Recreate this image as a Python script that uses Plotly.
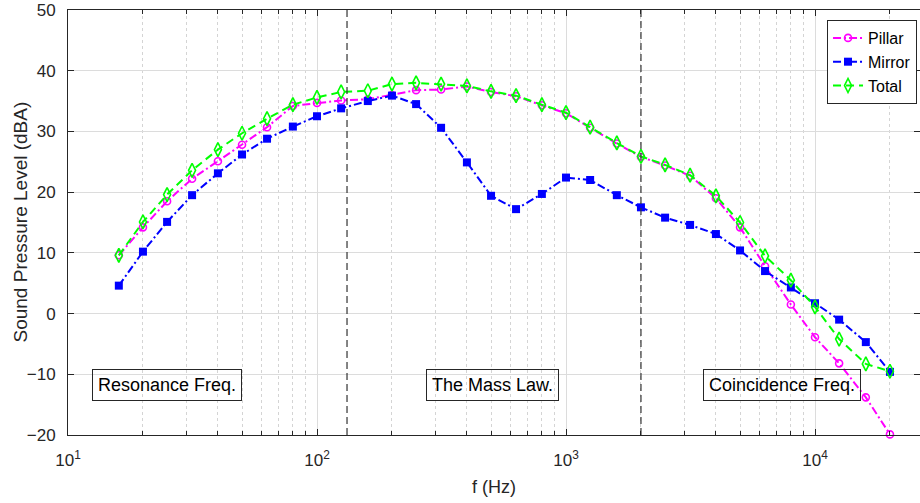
import numpy as np
import plotly.graph_objects as go

freq = [16, 20, 25, 31.5, 40, 50, 63, 80, 100, 125, 160, 200, 250, 315, 400, 500,
        630, 800, 1000, 1250, 1600, 2000, 2500, 3150, 4000, 5000, 6300, 8000,
        10000, 12500, 16000, 20000]
pillar = [9.6, 14.2, 18.5, 22.2, 25.1, 27.8, 30.7, 34.2, 34.7, 35.1, 35.3, 36.0,
          36.8, 36.9, 37.4, 36.5, 35.8, 34.3, 33.0, 30.6, 28.0, 25.8, 24.4, 22.7,
          19.0, 14.2, 7.8, 1.5, -3.9, -8.2, -13.8, -19.9]
mirror = [4.6, 10.2, 15.1, 19.5, 23.1, 26.2, 28.8, 30.8, 32.5, 33.8, 35.0, 35.9,
          34.5, 30.6, 24.9, 19.4, 17.2, 19.7, 22.4, 22.0, 19.5, 17.5, 15.8, 14.6,
          13.1, 10.4, 7.0, 4.3, 1.7, -1.0, -4.7, -9.6]
total = [9.6, 15.1, 19.6, 23.6, 27.0, 29.7, 32.1, 34.4, 35.6, 36.5, 36.7, 37.8,
         38.0, 37.8, 37.5, 36.6, 35.9, 34.4, 33.1, 30.7, 28.1, 25.9, 24.5, 22.8,
         19.4, 15.0, 9.5, 5.5, 1.1, -4.2, -8.3, -9.5]

region_bounds = [132, 2000]
region_labels = ["Resonance Freq.", "The Mass Law.", "Coincidence Freq."]
region_label_x = [12.5, 274, 3550]
region_label_y = -11.8

x_major = [10, 100, 1000, 10000]
x_major_text = ["10<sup>1</sup>", "10<sup>2</sup>", "10<sup>3</sup>", "10<sup>4</sup>"]
y_range = [-20, 50]
y_title = "Sound Pressure Level (dBA)"

FONT = "Liberation Sans"
AX = "#262626"

fig = go.Figure()

fig.add_trace(go.Scatter(
    x=freq, y=pillar, name="Pillar", mode="lines+markers", cliponaxis=False,
    line=dict(color="#FF00FF", width=2, dash="8px,3px,2px,3px"),
    marker=dict(symbol="circle-open", size=7, color="#FF00FF", line=dict(width=1.6)),
))
fig.add_trace(go.Scatter(
    x=freq, y=mirror, name="Mirror", mode="lines+markers", cliponaxis=False,
    line=dict(color="#0000FF", width=2, dash="8px,3px,2px,3px"),
    marker=dict(symbol="square", size=8, color="#0000FF"),
))
fig.add_trace(go.Scatter(
    x=freq, y=total, name="Total", mode="lines+markers", cliponaxis=False,
    line=dict(color="#00FF00", width=2, dash="8px,5px"),
    marker=dict(symbol="diamond-tall-open", size=10, color="#00FF00", line=dict(width=1.6)),
))

for xb in region_bounds:
    fig.add_trace(go.Scatter(
        x=[xb, xb], y=y_range, mode="lines", showlegend=False, hoverinfo="skip",
        line=dict(color="#333333", width=1.2, dash="7px,4px"),
    ))

for txt, xv in zip(region_labels, region_label_x):
    fig.add_annotation(
        x=np.log10(xv), y=region_label_y, xref="x", yref="y", text=txt,
        showarrow=False, xanchor="left", yanchor="middle",
        font=dict(family=FONT, size=18, color="#000000"),
        bordercolor="#262626", borderwidth=1, borderpad=5, bgcolor="rgba(0,0,0,0)",
    )

# y-axis title placed as a rotated annotation so it sits close to the tick labels
fig.add_annotation(
    x=-48 / 852, y=0.5, xref="paper", yref="paper", text=y_title,
    textangle=-90, showarrow=False, xanchor="center", yanchor="middle",
    font=dict(family=FONT, size=19, color=AX),
)

minor_vals = [m * d for d in x_major for m in range(2, 10)]

fig.update_layout(
    width=920, height=503,
    margin=dict(l=68, r=0, t=10, b=68),
    paper_bgcolor="white", plot_bgcolor="white",
    font=dict(family=FONT, size=17, color=AX),
    showlegend=True,
    legend=dict(
        x=0.9965, y=0.9765, xanchor="right", yanchor="top",
        bordercolor="#262626", borderwidth=1, bgcolor="white",
        font=dict(family=FONT, size=16, color="#000000"),
        itemwidth=30, tracegroupgap=0,
    ),
    xaxis=dict(
        type="log", range=[1, 1 + 852 / 249],
        tickmode="array", tickvals=x_major, ticktext=x_major_text,
        ticks="inside", ticklen=6, tickcolor=AX, ticklabelstandoff=10,
        showline=True, linecolor=AX, linewidth=1, mirror="ticks",
        showgrid=True, gridcolor="#dcdcdc", gridwidth=1,
        minor=dict(tickmode="array", tickvals=minor_vals, ticks="inside", ticklen=4,
                   tickcolor=AX, showgrid=True, gridcolor="#d4d4d4", griddash="dot",
                   gridwidth=1),
        title=dict(text="f (Hz)", font=dict(family=FONT, size=18, color=AX), standoff=10),
        tickfont=dict(family=FONT, size=17, color=AX),
        zeroline=False,
    ),
    yaxis=dict(
        range=y_range, dtick=10, tick0=0,
        ticks="inside", ticklen=6, tickcolor=AX, ticklabelstandoff=8,
        showline=True, linecolor=AX, linewidth=1, mirror="ticks",
        showgrid=True, gridcolor="#dcdcdc", gridwidth=1,
        zeroline=False,
        tickfont=dict(family=FONT, size=17, color=AX),
    ),
)

fig.write_html("out.html")
